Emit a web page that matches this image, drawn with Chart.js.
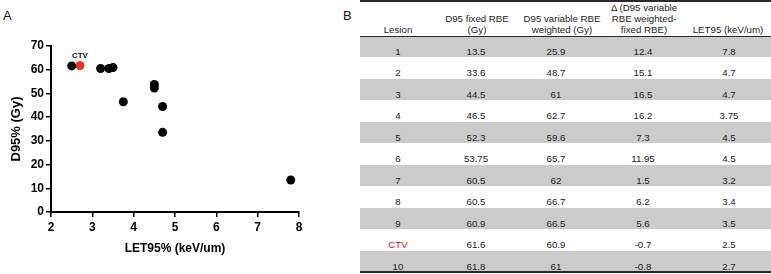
<!DOCTYPE html>
<html>
<head>
<meta charset="utf-8">
<script src="https://cdn.jsdelivr.net/npm/chart.js@4.4.0/dist/chart.umd.min.js"></script>
<style>
  body { margin: 0; background: #fff; font-family: "Liberation Sans", Arial, Helvetica, sans-serif; }
  #wrap { position: relative; width: 771px; height: 274px; overflow: hidden; }
  .panel { position: absolute; font-size: 13px; color: #111; }
  #tbl { position: absolute; left: 360px; top: 0; width: 411px; height: 274px; font-size: 9.7px; color: #222; }
  .hline { position: absolute; left: 0; width: 411px; background: #2a2a2a; }
  .head { position: absolute; bottom: 239px; transform: translateX(-50%); text-align: center; white-space: pre; line-height: 11px; }
  .row { position: absolute; left: 0; width: 411px; }
  .cell { position: absolute; top: 10px; transform: translateX(-50%); line-height: 12px; white-space: pre; }
</style>
</head>
<body>
<div id="wrap">
  <div class="panel" style="left:3px;top:8px">A</div>
  <div class="panel" style="left:343px;top:8px">B</div>
  <canvas id="scatter" width="340" height="274" style="position:absolute;left:0;top:0"></canvas>
  <div id="tbl"></div>
</div>
<script>
// table data
const lesionLabels = ['1', '2', '3', '4', '5', '6', '7', '8', '9', 'CTV', '10'];
const d95Fixed = [13.5, 33.6, 44.5, 46.5, 52.3, 53.75, 60.5, 60.5, 60.9, 61.6, 61.8];
const d95Variable = [25.9, 48.7, 61, 62.7, 59.6, 65.7, 62, 66.7, 66.5, 60.9, 61];
const deltaRbe = [12.4, 15.1, 16.5, 16.2, 7.3, 11.95, 1.5, 6.2, 5.6, -0.7, -0.8];
const let95 = [7.8, 4.7, 4.7, 3.75, 4.5, 4.5, 3.2, 3.4, 3.5, 2.5, 2.7];
const headers = ['Lesion', 'D95 fixed RBE\n(Gy)', 'D95 variable RBE\nweighted (Gy)', '\u0394 (D95 variable\nRBE weighted-\nfixed RBE)', 'LET95 (keV/um)'];

// scatter points as drawn in panel A
const plotLet = [7.8, 4.7, 4.7, 3.75, 4.5, 4.5, 3.2, 3.4, 3.5, 2.5];
const plotD95 = [13.5, 33.6, 44.5, 46.5, 52.3, 53.75, 60.5, 60.5, 60.9, 61.6];
const ctvLet = [2.7];
const ctvD95 = [61.8];

// ---- table (panel B) ----
const tbl = document.getElementById('tbl');
const headCenters = [38, 117, 202, 284, 368];
const cellCenters = [38, 116, 196, 283, 369];
const rowTop = 36;
const rowH = (272 - rowTop) / lesionLabels.length;

let html = '<div class="hline" style="top:0px;height:2px"></div>';
headers.forEach((h, i) => {
  html += `<div class="head" style="left:${headCenters[i]}px">${h}</div>`;
});
lesionLabels.forEach((lab, r) => {
  const bg = r % 2 === 0 || r === lesionLabels.length - 1 ? '#cbcbcb' : '#fff';
  const vals = [lab, d95Fixed[r], d95Variable[r], deltaRbe[r], let95[r]];
  html += `<div class="row" style="top:${rowTop + r * rowH}px;height:${rowH}px;background:${bg}">`;
  vals.forEach((v, i) => {
    const col = lab === 'CTV' && i === 0 ? 'color:#e8101a;' : '';
    html += `<div class="cell" style="left:${cellCenters[i]}px;${col}">${v}</div>`;
  });
  html += '</div>';
});
html += `<div class="hline" style="top:${rowTop}px;height:1px"></div>`;
html += '<div class="hline" style="top:271px;height:2px"></div>';
tbl.innerHTML = html;

// ---- scatter (panel A) ----
const fontFam = '"Liberation Sans", Arial, Helvetica, sans-serif';

// label over the CTV point
const ctvLabel = {
  id: 'ctvLabel',
  afterDatasetsDraw(chart) {
    const { ctx, scales } = chart;
    const x = scales.x.getPixelForValue(ctvLet[0]);
    const y = scales.y.getPixelForValue(ctvD95[0]);
    ctx.save();
    ctx.font = 'bold 8px ' + fontFam;
    ctx.fillStyle = '#111';
    ctx.textAlign = 'center';
    ctx.textBaseline = 'bottom';
    ctx.fillText('CTV', x, y - 6);
    ctx.restore();
  }
};

const axisCommon = {
  type: 'linear',
  ticks: { stepSize: 10, color: '#000', padding: 2, font: { family: fontFam, size: 12, weight: 'bold' } },
  grid: { drawOnChartArea: false, drawTicks: true, tickLength: 5, color: '#000', lineWidth: 1.5 },
  border: { display: true, color: '#000', width: 2 }
};

new Chart(document.getElementById('scatter').getContext('2d'), {
  type: 'scatter',
  data: {
    datasets: [
      {
        data: plotLet.map((x, i) => ({ x: x, y: plotD95[i] })),
        backgroundColor: '#000',
        borderWidth: 0,
        pointRadius: 4.5
      },
      {
        data: ctvLet.map((x, i) => ({ x: x, y: ctvD95[i] })),
        backgroundColor: '#f0301e',
        borderWidth: 0,
        pointRadius: 4.5
      }
    ]
  },
  options: {
    responsive: false,
    animation: false,
    layout: { padding: { left: 0, top: 46, right: 41, bottom: 0 } },
    plugins: { legend: { display: false }, tooltip: { enabled: false } },
    scales: {
      x: {
        ...axisCommon,
        min: 2, max: 8,
        ticks: { ...axisCommon.ticks, stepSize: 1, padding: 3 },
        title: { display: true, text: 'LET95% (keV/um)', color: '#000', padding: { top: 0, bottom: 18 }, font: { family: fontFam, size: 12, weight: 'bold' } },
        afterFit(s) { s.height = 62; }
      },
      y: {
        ...axisCommon,
        min: 0, max: 70,
        title: { display: true, text: 'D95% (Gy)', color: '#000', padding: { top: 9, bottom: 0 }, font: { family: fontFam, size: 13, weight: 'bold' } },
        afterFit(s) { s.width = 51; }
      }
    }
  },
  plugins: [ctvLabel]
});
</script>
</body>
</html>
